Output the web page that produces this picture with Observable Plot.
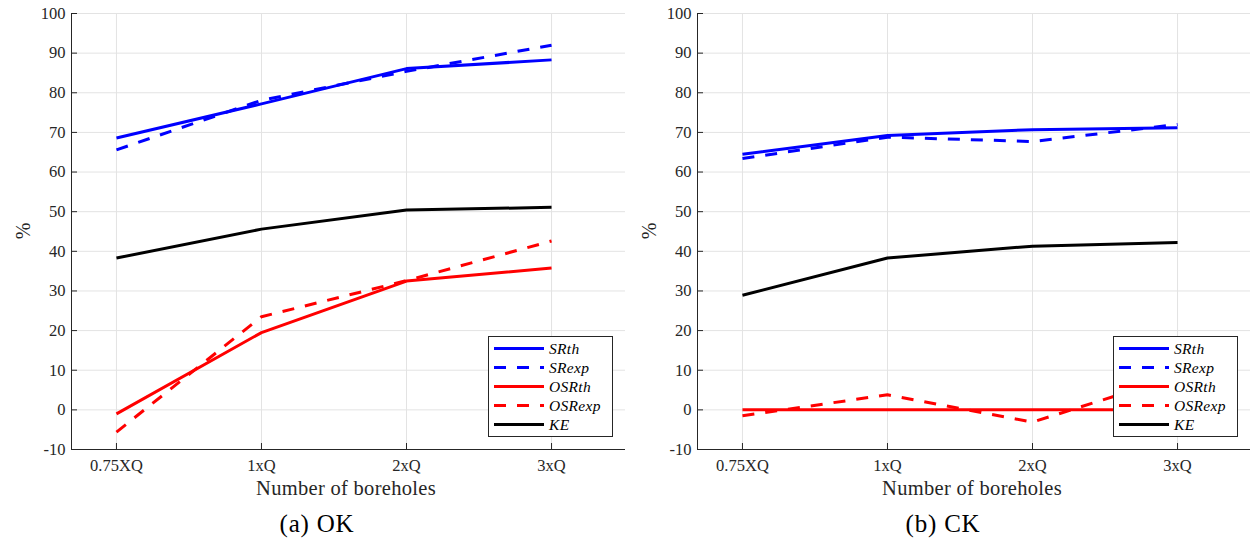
<!DOCTYPE html>
<html><head><meta charset="utf-8">
<script src="https://cdn.jsdelivr.net/npm/d3@7"></script>
<script src="https://cdn.jsdelivr.net/npm/@observablehq/plot@0.6"></script>
<style>
html,body{margin:0;padding:0;background:#fff;overflow:hidden;}
#wrap{position:relative;width:1250px;height:546px;overflow:hidden;font-family:"Liberation Serif","DejaVu Serif",serif;}
.panel{position:absolute;top:0;}
.caption{position:absolute;font-size:25px;color:#000;transform:translate(-50%,-50%);white-space:nowrap;letter-spacing:0.8px;}
.xlabel{position:absolute;font-size:20.5px;color:#262626;transform:translate(-50%,-50%);white-space:nowrap;letter-spacing:0.3px;}
.ylabel{position:absolute;font-size:20px;color:#262626;transform:translate(-50%,-50%) rotate(-90deg);white-space:nowrap;}
.legend{position:absolute;background:#fff;border:1px solid #262626;box-sizing:border-box;width:125px;height:101px;}
.legend .row{position:absolute;left:0;height:19px;display:flex;align-items:center;}
.legend .row span{font-style:italic;font-size:15.5px;margin-left:5px;color:#000;letter-spacing:0.3px;}
</style></head>
<body><div id="wrap"></div>
<script>
const categories = ["0.75XQ", "1xQ", "2xQ", "3xQ"];
const seriesNames = ["SRth", "SRexp", "OSRth", "OSRexp", "KE"];
const seriesColors = ["#0000ff", "#0000ff", "#ff0000", "#ff0000", "#000000"];
const seriesDashed = [false, true, false, true, false];
const yTicks = [-10, 0, 10, 20, 30, 40, 50, 60, 70, 80, 90, 100];

const okSRth   = [68.6, 77.2, 86.1, 88.3];
const okSRexp  = [65.6, 78.1, 85.4, 92.0];
const okOSRth  = [-1.0, 19.5, 32.5, 35.8];
const okOSRexp = [-5.6, 23.5, 32.6, 42.6];
const okKE     = [38.3, 45.6, 50.4, 51.1];

const ckSRth   = [64.5, 69.2, 70.7, 71.2];
const ckSRexp  = [63.4, 68.8, 67.7, 72.0];
const ckOSRth  = [0, 0, 0, 0];
const ckOSRexp = [-1.5, 3.8, -3.1, 8.5];
const ckKE     = [28.9, 38.3, 41.3, 42.2];

const panels = [
  {left: 0, caption: "(a) OK", series: [okSRth, okSRexp, okOSRth, okOSRexp, okKE], legendLeft: 488},
  {left: 626, caption: "(b) CK", series: [ckSRth, ckSRexp, ckOSRth, ckOSRexp, ckKE], legendLeft: 1113}
];

const wrap = document.getElementById("wrap");
const axisColor = "#262626";

function addDiv(cls, text, x, y) {
  const d = document.createElement("div");
  d.className = cls;
  d.textContent = text;
  d.style.left = x + "px";
  d.style.top = y + "px";
  wrap.appendChild(d);
}

panels.forEach(p => {
  const marks = [
    Plot.gridX([1,2,3,4], {stroke: "#e3e3e3", strokeOpacity: 1}),
    Plot.gridY(yTicks, {stroke: "#e3e3e3", strokeOpacity: 1})
  ];
  p.series.forEach((vals, si) => {
    const rows = vals.map((v, i) => ({x: i + 1, y: v}));
    marks.push(Plot.line(rows, {
      x: "x", y: "y",
      stroke: seriesColors[si], strokeWidth: 3,
      strokeDasharray: seriesDashed[si] ? "12,11" : null,
      strokeLinecap: "butt", strokeLinejoin: "round"
    }));
  });
  marks.push(
    Plot.axisY(yTicks, {
      tickSize: -6, tickPadding: 12, tickFormat: d => String(d),
      color: axisColor, fontSize: 16.5, label: null
    }),
    Plot.axisX([1,2,3,4], {
      tickSize: -6, tickPadding: 16, tickFormat: d => categories[d - 1],
      color: axisColor, fontSize: 16.5, label: null
    }),
    Plot.ruleX([0.69], {stroke: axisColor, strokeWidth: 1}),
    Plot.ruleY([-10], {stroke: axisColor, strokeWidth: 1})
  );
  const chart = Plot.plot({
    width: 625, height: 500,
    marginLeft: 71, marginRight: 0, marginTop: 13, marginBottom: 51,
    x: {type: "linear", domain: [0.69, 4.51]},
    y: {domain: [-10, 100]},
    style: {fontFamily: "'Liberation Serif','DejaVu Serif',serif", fontSize: "16.5px", background: "white", overflow: "visible"},
    marks
  });
  chart.classList.add("panel");
  chart.style.left = p.left + "px";
  wrap.appendChild(chart);

  addDiv("xlabel", "Number of boreholes", p.left + 346, 488);
  addDiv("ylabel", "%", p.left + 23, 231);
  addDiv("caption", p.caption, p.left + 317, 524);

  const lg = document.createElement("div");
  lg.className = "legend";
  lg.style.left = p.legendLeft + "px";
  lg.style.top = "336px";
  seriesNames.forEach((name, si) => {
    const row = document.createElement("div");
    row.className = "row";
    row.style.top = (2 + si * 19) + "px";
    row.style.left = "5px";
    const ns = "http://www.w3.org/2000/svg";
    const s = document.createElementNS(ns, "svg");
    s.setAttribute("width", "50"); s.setAttribute("height", "19");
    const l = document.createElementNS(ns, "line");
    l.setAttribute("x1", "0"); l.setAttribute("x2", "50");
    l.setAttribute("y1", "9.5"); l.setAttribute("y2", "9.5");
    l.setAttribute("stroke", seriesColors[si]); l.setAttribute("stroke-width", "3");
    if (seriesDashed[si]) l.setAttribute("stroke-dasharray", "12,11");
    s.appendChild(l);
    row.appendChild(s);
    const t = document.createElement("span");
    t.textContent = name;
    row.appendChild(t);
    lg.appendChild(row);
  });
  wrap.appendChild(lg);
});
</script></body></html>
